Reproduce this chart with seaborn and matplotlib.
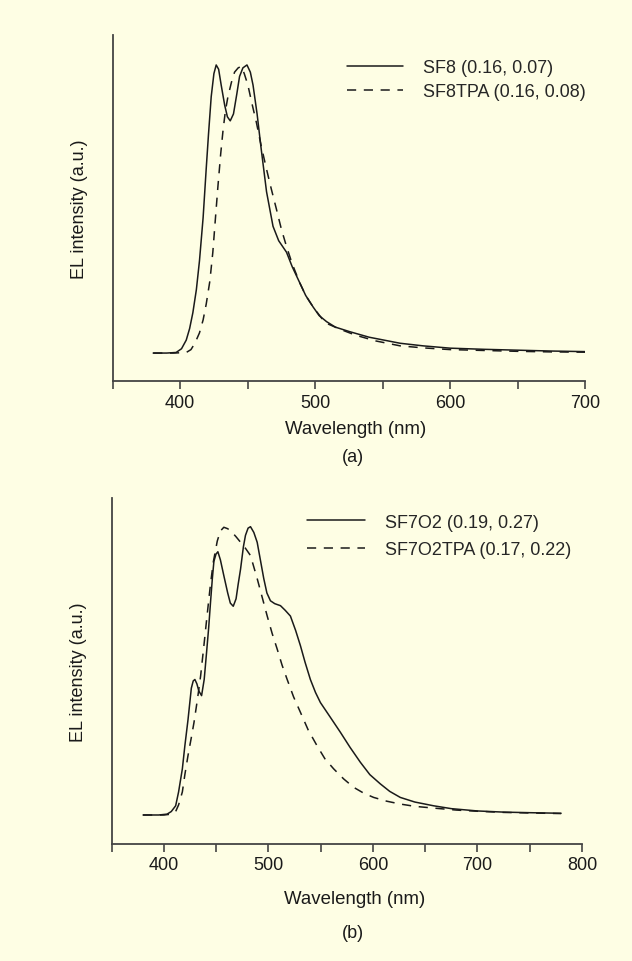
import numpy as np
import pandas as pd
import matplotlib
matplotlib.use('Agg')
import matplotlib.pyplot as plt
import seaborn as sns

# panel (a): SF8 / SF8TPA
wl_sf8 = [380, 390, 397, 401, 404.5, 407, 409.4, 412, 414.3, 417, 419.3, 421, 423, 425, 426.7,
          428.5, 430.4, 433, 435, 437.1, 439.5, 442, 444, 446.5, 449.5, 452, 454, 457, 460,
          464, 468.8, 473, 478.8, 483, 488.6, 493, 498.5, 503, 508.5, 515, 525.8, 540, 563,
          580, 600, 625, 650, 675, 700]
el_sf8 = [0.0, 0.0, 0.002, 0.015, 0.045, 0.085, 0.14, 0.22, 0.32, 0.47, 0.64, 0.76, 0.89, 0.97, 1.0,
          0.985, 0.93, 0.86, 0.82, 0.806, 0.83, 0.9, 0.96, 0.99, 1.0, 0.975, 0.93, 0.83, 0.71,
          0.56, 0.44, 0.39, 0.35, 0.30, 0.244, 0.20, 0.16, 0.13, 0.109, 0.09, 0.074, 0.055, 0.034,
          0.025, 0.017, 0.013, 0.01, 0.007, 0.005]

wl_sf8tpa = [380, 395, 404.5, 408, 411, 414.3, 417, 419.3, 422, 424.2, 426, 428, 430, 431.7,
             433.5, 435.4, 438, 440.3, 443, 445.3, 447.5, 450.2, 453, 456.5, 460, 463.9, 467.5,
             471.3, 475, 478.8, 483, 488.6, 493, 498.5, 505, 510, 518.3, 530, 545, 563, 580,
             600, 625, 650, 675, 700]
el_sf8tpa = [0.0, 0.0, 0.002, 0.012, 0.035, 0.07, 0.115, 0.17, 0.25, 0.35, 0.46, 0.58, 0.69, 0.77,
             0.84, 0.89, 0.94, 0.975, 0.99, 0.995, 0.97, 0.93, 0.87, 0.80, 0.72, 0.64, 0.57,
             0.50, 0.43, 0.37, 0.31, 0.244, 0.20, 0.16, 0.12, 0.10, 0.083, 0.062, 0.042, 0.025, 0.018,
             0.012, 0.009, 0.006, 0.004, 0.003]

# panel (b): SF7O2 / SF7O2TPA
wl_sf7o2 = [380, 395, 403, 407, 411.2, 414, 417.6, 420, 423, 426.2, 428, 429.6, 431.5, 433.4, 436,
            438.5, 440.8, 442.8, 444.6, 446.3, 447.8, 449.8, 451.6, 454, 457.3, 461, 463.5, 466.3,
            469, 471, 473.3, 476, 478, 480.5, 482.8, 486, 489.2, 492.5, 495.5, 498.5, 501.9, 506,
            511.5, 516, 521, 526, 530.6, 535, 540.1, 545, 549.7, 559, 568.8, 578, 587.9, 597, 607,
            616, 626.1, 640, 657.9, 675, 700, 725, 750, 780]
el_sf7o2 = [0, 0, 0.003, 0.012, 0.032, 0.08, 0.16, 0.24, 0.33, 0.44, 0.465, 0.47, 0.455, 0.43, 0.414,
            0.47, 0.565, 0.65, 0.74, 0.82, 0.88, 0.905, 0.913, 0.885, 0.83, 0.77, 0.735, 0.724,
            0.75, 0.80, 0.853, 0.93, 0.97, 0.995, 1.0, 0.98, 0.946, 0.88, 0.82, 0.77, 0.743, 0.733,
            0.726, 0.71, 0.69, 0.64, 0.587, 0.53, 0.47, 0.425, 0.39, 0.34, 0.287, 0.235, 0.183, 0.14, 0.108,
            0.082, 0.061, 0.045, 0.032, 0.022, 0.014, 0.010, 0.008, 0.006]

wl_sf7o2tpa = [380, 400, 407, 411.2, 414, 417.6, 420, 423, 426, 428.7, 432, 435.1, 438, 441.5, 444.5,
               447.2, 451, 454, 457.3, 461, 465.3, 469, 473.3, 478, 482.8, 486, 489.2, 494, 498.8,
               503.5, 508.3, 513, 517.9, 524, 530.6, 538, 546.5, 554, 562.4, 572, 581.5, 591, 600.6,
               613, 626.1, 640, 657.9, 680, 700, 725, 750, 780]
el_sf7o2tpa = [0, 0, 0.003, 0.012, 0.035, 0.08, 0.14, 0.206, 0.265, 0.32, 0.40, 0.483, 0.58, 0.70, 0.80,
               0.877, 0.95, 0.985, 0.998, 0.993, 0.98, 0.965, 0.946, 0.925, 0.90, 0.86, 0.82, 0.755, 0.69,
               0.63, 0.576, 0.52, 0.47, 0.41, 0.356, 0.295, 0.24, 0.195, 0.16, 0.125, 0.096, 0.076, 0.061,
               0.048, 0.038, 0.03, 0.024, 0.017, 0.013, 0.009, 0.007, 0.005]

labels_a = ['SF8 (0.16, 0.07)', 'SF8TPA (0.16, 0.08)']
labels_b = ['SF7O2 (0.19, 0.27)', 'SF7O2TPA (0.17, 0.22)']

bg = '#fefee4'
ink = '#1a1a1a'
sns.set_style('white')
plt.rcParams['font.family'] = ['Liberation Sans', 'DejaVu Sans']
plt.rcParams['font.size'] = 13

fig = plt.figure(figsize=(6.32, 9.62), dpi=100, facecolor=bg)
W, H = 632, 962


def make_ax(left, right, top, bottom):
    return fig.add_axes([left / W, 1 - bottom / H, (right - left) / W, (bottom - top) / H])


ax_a = make_ax(112.7, 585, 36, 382)
ax_b = make_ax(111.7, 582, 499, 845)

# (axes, series, labels, xlim, ylim, handle length, label spacing, legend anchor px, xlabel pad, xlabel x)
panels = [
    (ax_a, wl_sf8, el_sf8, wl_sf8tpa, el_sf8tpa, labels_a, (350, 700), (-0.097, 1.104),
     3.1, 0.4, (346.7, 80.5), 6.5, 0.515),
    (ax_b, wl_sf7o2, el_sf7o2, wl_sf7o2tpa, el_sf7o2tpa, labels_b, (350, 800), (-0.1006, 1.0995),
     3.2, 0.6, (307.3, 537), 12, 0.517),
]

for ax, x1, y1, x2, y2, labs, xlim, ylim, hl, ls, anchor, xpad, xlx in panels:
    ax.set_facecolor(bg)
    sns.lineplot(x=x1, y=y1, ax=ax, color=ink, lw=1.1, label=labs[0], errorbar=None)
    sns.lineplot(x=x2, y=y2, ax=ax, color=ink, lw=1.1, label=labs[1], errorbar=None,
                 linestyle=(0, (6, 5)))
    ax.set_xlim(*xlim)
    ax.set_ylim(*ylim)
    ax.set_xticks(np.arange(400, xlim[1] + 1, 100))
    ax.set_xticks(np.arange(350, xlim[1] + 1, 50), minor=True)
    ax.set_yticks([])
    ax.tick_params(axis='x', which='both', direction='out', length=6, width=1.2,
                   color='#444444', bottom=True, labelcolor=ink, pad=3)
    ax.tick_params(axis='x', which='minor', labelbottom=False)
    for s in ['top', 'right']:
        ax.spines[s].set_visible(False)
    for s in ['left', 'bottom']:
        ax.spines[s].set_color('#444444')
        ax.spines[s].set_linewidth(1.3)
    ax.set_xlabel('Wavelength (nm)', color=ink, labelpad=xpad, fontsize=13.4)
    ax.xaxis.label.set_x(xlx)
    ax.set_ylabel('EL intensity (a.u.)', color=ink, labelpad=18)
    ax.legend(loc='center left', bbox_to_anchor=(anchor[0] / W, 1 - anchor[1] / H),
              bbox_transform=fig.transFigure, frameon=False, handlelength=hl,
              handletextpad=1.1, labelspacing=ls, borderaxespad=0, borderpad=0)

fig.text(352.5 / W, 1 - 458 / H, '(a)', ha='center', va='center', color=ink)
fig.text(352.5 / W, 1 - 934 / H, '(b)', ha='center', va='center', color=ink)

fig.savefig('out.png', dpi=100, facecolor=bg)
